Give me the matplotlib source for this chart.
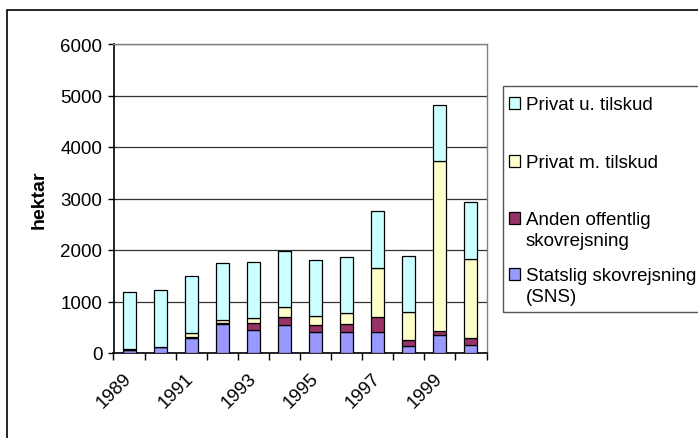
import numpy as np
import matplotlib.pyplot as plt
from matplotlib.patches import Rectangle

# Data (hektar)
years = [1989, 1990, 1991, 1992, 1993, 1994, 1995, 1996, 1997, 1998, 1999, 2000]
statslig = [50, 110, 290, 560, 450, 550, 400, 410, 410, 145, 355, 155]
anden = [0, 0, 30, 20, 140, 155, 145, 150, 280, 100, 80, 145]
privat_m = [20, 15, 60, 70, 85, 185, 180, 215, 965, 555, 3290, 1530]
privat_u = [1105, 1095, 1110, 1090, 1090, 1085, 1085, 1090, 1100, 1090, 1100, 1100]

series = [statslig, anden, privat_m, privat_u]
labels = ['Statslig skovrejsning\n(SNS)', 'Anden offentlig\nskovrejsning',
          'Privat m. tilskud', 'Privat u. tilskud']
colors = ['#9999FF', '#993366', '#FFFFCC', '#CCFFFF']

plt.rcParams['font.family'] = ['Liberation Sans', 'DejaVu Sans']

W, H = 698, 439
fig = plt.figure(figsize=(W / 100, H / 100), dpi=100)
ax = fig.add_axes([113.5 / W, 1 - 354 / H, 373 / W, 309 / H])

x = np.arange(len(years))
bottom = np.zeros(len(years))
for vals, col in zip(series, colors):
    ax.bar(x, vals, width=0.42, bottom=bottom, color=col, edgecolor='black',
           linewidth=0.9, zorder=3)
    bottom += np.array(vals)

ax.set_xlim(-0.5, len(years) - 0.5)
ax.set_ylim(0, 6000)
ax.set_yticks(range(0, 6001, 1000))
ax.yaxis.grid(True, color='#333333', linewidth=0.9, zorder=0)
ax.tick_params(axis='y', direction='out', length=4, width=1, pad=4, labelsize=13.5)

# category labels every other year, tick marks between categories
ax.set_xticks(x[::2])
ax.set_xticklabels([str(y) for y in years[::2]], rotation=45, ha='right',
                   va='center', rotation_mode='anchor', fontsize=13.5)
ax.tick_params(axis='x', which='major', length=0, pad=16)
ax.set_xticks(np.arange(-0.5, len(years)), minor=True)
ax.tick_params(axis='x', which='minor', direction='out', length=5, width=1)

for s in ['left', 'bottom']:
    ax.spines[s].set_color('black')
    ax.spines[s].set_linewidth(1.2)
for s in ['top', 'right']:
    ax.spines[s].set_color('#808080')
    ax.spines[s].set_linewidth(1.0)

ax.set_ylabel('hektar', fontsize=14, fontweight='bold')
ax.yaxis.set_label_coords((48 - 113.5) / 373, 0.5)

# outer chart border
fig.patches.append(Rectangle((7 / W, -0.1), 1.2, 1.1 - 11 / H, transform=fig.transFigure,
                             fill=False, edgecolor='black', linewidth=1.2))

# legend box
fig.patches.append(Rectangle((503 / W, 1 - 313 / H), 0.5, (313 - 87) / H,
                             transform=fig.transFigure, fill=False,
                             edgecolor='#555555', linewidth=1.0))
legend_y = [104, 162, 219, 275]
for yy, lab, col in zip(legend_y, labels[::-1], colors[::-1]):
    fig.patches.append(Rectangle((509 / W, 1 - (yy + 6) / H), 11 / W, 12 / H,
                                 transform=fig.transFigure, facecolor=col,
                                 edgecolor='black', linewidth=0.9))
    fig.text(526 / W, 1 - (yy - 7) / H, lab, fontsize=13.5, va='top', ha='left',
             linespacing=1.3)

fig.savefig('out.png', dpi=100)
